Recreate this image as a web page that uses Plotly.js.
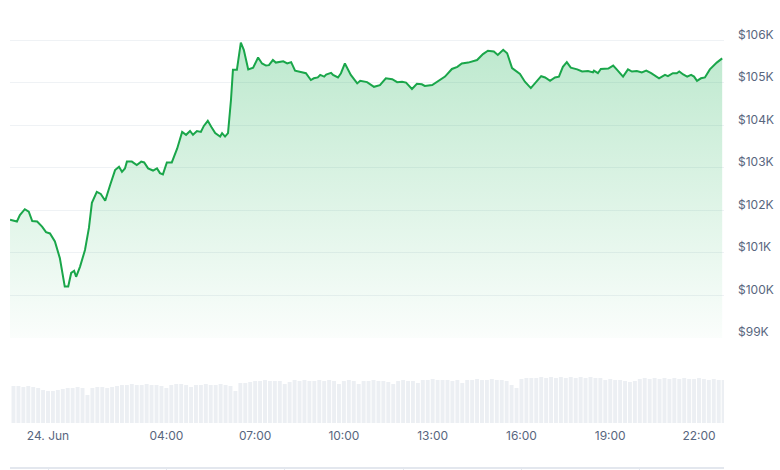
<!DOCTYPE html>
<html>
<head>
<meta charset="utf-8">
<script src="https://cdn.plot.ly/plotly-3.0.1.min.js"></script>
<style>html,body{margin:0;padding:0;background:#fff;}#chart{width:780px;height:470px;}</style>
</head>
<body>
<div id="chart"></div>
<script>
// Price (thousands of USD), 23 Jun 22:43 → 24 Jun 22:47
const timesJun23 = ['22:43','22:57','23:03','23:13','23:21','23:28','23:38','23:48','23:56'];
const timesJun24 = ['00:04','00:14','00:24','00:34','00:41','00:47','00:53','00:57','01:05','01:15','01:23','01:29','01:39','01:47','01:56','02:06','02:16','02:24','02:30','02:36','02:40','02:50','03:00','03:09','03:15','03:23','03:33','03:41','03:47','03:53','04:01','04:11','04:22','04:32','04:40','04:48','04:54','05:02','05:10','05:16','05:24','05:31','05:39','05:49','05:53','05:59','06:05','06:11','06:15','06:23','06:31','06:37','06:46','06:56','07:06','07:14','07:22','07:28','07:36','07:42','07:57','08:05','08:13','08:21','08:31','08:43','08:53','08:59','09:07','09:12','09:20','09:24','09:34','09:38','09:48','09:54','10:02','10:06','10:14','10:27','10:33','10:47','11:01','11:13','11:25','11:38','11:48','11:58','12:06','12:18','12:28','12:38','12:44','12:59','13:15','13:25','13:39','13:50','13:59','14:12','14:30','14:42','14:52','15:04','15:12','15:23','15:31','15:41','15:57','16:07','16:19','16:30','16:40','16:48','16:58','17:08','17:16','17:24','17:32','17:40','17:53','18:03','18:15','18:25','18:27','18:35','18:41','18:56','19:06','19:14','19:26','19:36','19:44','19:54','20:04','20:13','20:23','20:39','20:51','20:57','21:07','21:15','21:20','21:28','21:36','21:44','21:50','21:56','22:04','22:12','22:22','22:36','22:47'];
const priceK = [101.78,101.74,101.89,102.03,101.97,101.75,101.74,101.62,101.49,
101.46,101.27,100.88,100.21,100.21,100.53,100.58,100.44,100.68,101.07,101.59,102.18,102.44,102.39,102.23,102.60,102.95,103.03,102.91,102.99,103.15,103.15,103.07,103.15,103.13,102.99,102.94,102.99,102.88,102.85,103.13,103.13,103.46,103.85,103.78,103.87,103.78,103.87,103.85,103.99,104.11,103.97,103.82,103.74,103.82,103.74,103.82,104.60,105.31,105.31,105.95,105.78,105.32,105.36,105.60,105.46,105.41,105.42,105.54,105.48,105.51,105.46,105.49,105.29,105.27,105.23,105.07,105.11,105.13,105.19,105.15,105.20,105.24,105.19,105.13,105.23,105.46,105.38,105.19,104.99,105.05,105.02,104.91,104.95,105.11,105.09,105.02,105.03,105.01,104.86,104.98,104.97,104.93,104.95,105.07,105.15,105.33,105.38,105.46,105.48,105.54,105.68,105.76,105.74,105.66,105.78,105.70,105.35,105.21,105.03,104.88,105.03,105.16,105.13,105.05,105.13,105.15,105.38,105.49,105.36,105.32,105.27,105.28,105.25,105.29,105.23,105.33,105.34,105.41,105.31,105.15,105.32,105.27,105.28,105.25,105.29,105.23,105.11,105.19,105.16,105.23,105.23,105.27,105.20,105.15,105.19,105.15,105.05,105.11,105.13,105.32,105.48,105.58];

// Volume (relative), 10‑minute bars starting 23 Jun 22:50
const volumeStart = '2025-06-23 22:50';
const volumeStepMin = 10;
const volume = [37,37,36,37,36,35,33,32,32,33,34,35,35,36,35,28,35,36,36,35,36,37,38,38,39,38,38,39,38,38,37,35,38,39,39,38,36,38,38,39,38,38,39,38,37,32,40,40,41,42,42,43,42,42,42,39,41,43,42,43,42,42,43,42,43,42,39,42,43,42,39,42,42,43,42,42,41,39,42,43,42,42,40,43,43,44,43,43,43,42,43,40,43,43,44,43,43,44,43,43,42,38,35,44,45,45,45,46,45,46,45,46,45,46,45,46,45,46,45,45,43,44,43,43,42,41,42,44,45,44,45,44,45,44,45,44,45,44,44,45,44,43,44,43,43];

// Axis labels
const yTickVals = [99,100,101,102,103,104,105,106];
const yTickText = ['$99K','$100K','$101K','$102K','$103K','$104K','$105K','$106K'];
const xTickVals = ['2025-06-24 00:00','2025-06-24 04:00','2025-06-24 07:00','2025-06-24 10:00','2025-06-24 13:00','2025-06-24 16:00','2025-06-24 19:00','2025-06-24 22:00'];
const xTickText = ['24. Jun','04:00','07:00','10:00','13:00','16:00','19:00','22:00'];
const xRange = ['2025-06-23 22:42:57','2025-06-24 22:50:42'];

const priceTime = timesJun23.map(t => '2025-06-23 ' + t).concat(timesJun24.map(t => '2025-06-24 ' + t));
const yMin = yTickVals[0];
const baseline = priceTime.map(() => yMin);

const font = {family: 'Inter, "Noto Sans", sans-serif', size: 12, color: '#58667e'};

const traces = [
  {x: priceTime, y: baseline, type: 'scatter', mode: 'lines', line: {width: 0, color: 'rgba(0,0,0,0)'}, hoverinfo: 'skip', showlegend: false, xaxis: 'x', yaxis: 'y'},
  {x: priceTime, y: priceK, type: 'scatter', mode: 'lines', fill: 'tonexty',
   fillgradient: {type: 'vertical', start: 99, stop: 106, colorscale: [[0, 'rgba(34,180,90,0.02)'], [1, 'rgba(34,180,90,0.30)']]},
   line: {color: '#1aa64a', width: 2}, showlegend: false, xaxis: 'x', yaxis: 'y'},
  {x0: volumeStart, dx: volumeStepMin * 60000, y: volume, type: 'bar', marker: {color: 'rgba(200,208,222,0.35)', line: {width: 0}}, showlegend: false, xaxis: 'x', yaxis: 'y2'},
  {x: xRange, y: [0, 0], type: 'scatter', mode: 'lines', line: {width: 0}, hoverinfo: 'skip', showlegend: false, xaxis: 'x2', yaxis: 'y2'}
];

const layout = {
  width: 780, height: 470,
  margin: {l: 10, r: 56, t: 20, b: 2},
  paper_bgcolor: '#ffffff', plot_bgcolor: '#ffffff',
  font: font,
  bargap: 0.2,
  showlegend: false,
  xaxis: {type: 'date', range: xRange, anchor: 'y2', tickvals: xTickVals, ticktext: xTickText,
          showgrid: false, zeroline: false, showline: false, ticks: '', tickfont: font, ticklabelstandoff: 4},
  xaxis2: {type: 'date', matches: 'x', overlaying: 'x', anchor: 'free', position: 0, showgrid: false, zeroline: false,
           showline: true, linecolor: '#e3e7ee', linewidth: 2, ticks: 'outside', ticklen: 4, tickcolor: '#e3e7ee',
           tick0: '2025-06-24 00:00', dtick: 4 * 3600000, showticklabels: false},
  yaxis: {domain: [0.2902, 1], range: [99, 106.482], side: 'right', anchor: 'x', tickvals: yTickVals, ticktext: yTickText,
          showgrid: true, gridcolor: '#eff2f5', gridwidth: 1, zeroline: false, showline: false, ticks: '',
          tickfont: font, ticklabelstandoff: 13, ticklabelshift: -6},
  yaxis2: {domain: [0.1004, 0.2790], range: [0, 80], visible: false, showgrid: false, zeroline: false}
};

Plotly.newPlot('chart', traces, layout, {staticPlot: true, displayModeBar: false});
</script>
</body>
</html>
